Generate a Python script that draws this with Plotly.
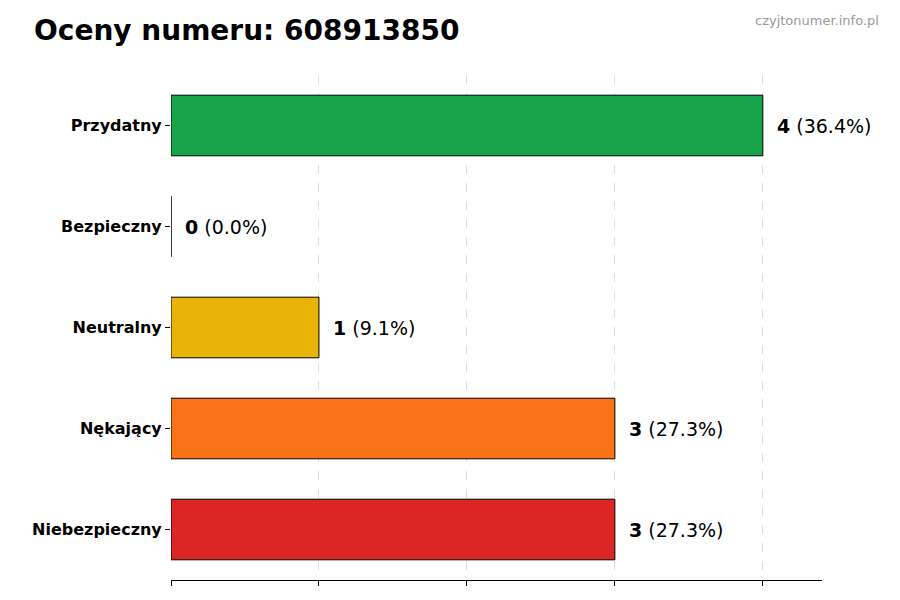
import plotly.graph_objects as go

categories = ["Niebezpieczny", "Nękający", "Neutralny", "Bezpieczny", "Przydatny"]
counts = [3, 3, 1, 0, 4]
percents = [27.3, 27.3, 9.1, 0.0, 36.4]
colors = ["#dc2626", "#f97316", "#eab308", "#22c55e", "#16a34a"]

fig = go.Figure()
fig.add_trace(go.Bar(
    y=categories, x=counts, orientation="h", width=0.6,
    marker=dict(color=colors, line=dict(color="black", width=1)),
    hoverinfo="skip",
))

for cat, c, p in zip(categories, counts, percents):
    fig.add_annotation(
        x=c + 0.08, y=cat, xanchor="left", showarrow=False,
        text=f"<b>{c}</b> ({p:.1f}%)",
        font=dict(size=19, color="black", family="DejaVu Sans"),
    )

# page body has an 8px margin, so everything is shifted by -8px
fig.add_annotation(
    x=873, y=3, xref="paper", yref="paper", xanchor="right", yanchor="top",
    showarrow=False, text="czyjtonumer.info.pl",
    font=dict(size=13, color="#999999"),
)
fig.layout.annotations[-1].update(x=(873 - 163) / 651, y=(600 - 28 - 3) / 505)

fig.update_layout(
    width=900, height=600,
    plot_bgcolor="white", paper_bgcolor="white",
    margin=dict(l=163, r=86, t=67, b=28),
    showlegend=False,
    font=dict(family="DejaVu Sans", color="black"),
    title=dict(text="<b>Oceny numeru: 608913850</b>", x=26 / 900, xanchor="left",
               y=1 - 22 / 600, yanchor="middle", font=dict(size=28, color="black")),
    xaxis=dict(range=[0, 4.4], showgrid=True, gridcolor="#dddddd", griddash="dash",
               gridwidth=1, dtick=1, showticklabels=False, ticks="outside",
               ticklen=5, tickcolor="black", showline=True, linecolor="black",
               zeroline=False, automargin=False),
    yaxis=dict(range=[-0.5, 4.5], showgrid=False, ticks="outside", ticklen=5,
               tickcolor="black", tickfont=dict(size=16, color="black"),
               tickvals=categories, ticktext=[f"<b>{c}</b>" for c in categories],
               showline=False, zeroline=False, automargin=False),
)

fig.write_html("out.html")
